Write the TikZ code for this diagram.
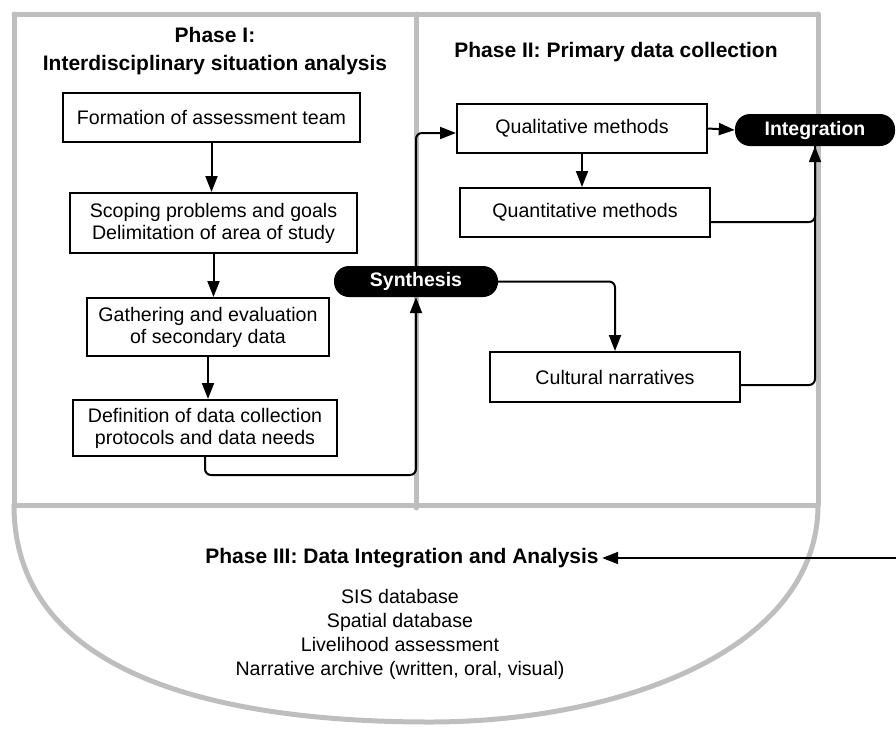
\documentclass[tikz,border=0pt]{standalone}
\usepackage{fontspec}
\setmainfont{Liberation Sans}
\usetikzlibrary{arrows.meta,calc}
\definecolor{framegray}{RGB}{190,190,190}
\begin{document}
\begin{tikzpicture}[x=1pt,y=-1pt,
 frame/.style={draw=framegray, line width=5pt, line cap=round, line join=round},
 box/.style={draw, line width=2pt, align=center, inner sep=0pt, font=\fontsize{19.6}{22}\selectfont},
 pill/.style={fill=black, rounded corners=15pt, text=white, font=\fontsize{19.5}{22}\selectfont\bfseries, inner sep=0pt},
 title/.style={font=\fontsize{21}{28}\selectfont\bfseries, align=center},
 arr/.style={-{Triangle[length=16pt,width=12pt]}, line width=2pt},
 conn/.style={line width=2pt, rounded corners=6pt}]
\useasboundingbox (0,0) rectangle (896,728);

% gray frame
\draw[frame] (14,14) -- (818,14);
\draw[frame] (14,14) -- (14,505);
\draw[frame] (416,14) -- (416,508);
\draw[frame] (818,14) -- (818,505);
\draw[frame] (14,505) -- (818,505);
\draw[frame] (14,505) .. controls (14,680) and (230,722) .. (430,722) .. controls (620,722) and (818,650) .. (818,505);

% titles
\node[title] (t1) at (215,51) {Phase I:\\Interdisciplinary situation analysis};
\node[title] (t2) at (616,52) {Phase II: Primary data collection};
\node[title] (t3) at (402,558) {Phase III: Data Integration and Analysis};
\node[align=center, font=\fontsize{19.6}{24}\selectfont] (list) at (400,634) {SIS database\\Spatial database\\Livelihood assessment\\Narrative archive (written, oral, visual)};

% boxes
\node[box, minimum width=297pt, minimum height=49pt] (b1) at (211.5,117.5) {Formation of assessment team};
\node[box, minimum width=287pt, minimum height=60pt] (b2) at (213.5,223) {Scoping problems and goals\\Delimitation of area of study};
\node[box, minimum width=242pt, minimum height=58pt] (b3) at (208,327) {Gathering and evaluation\\of secondary data};
\node[box, minimum width=264pt, minimum height=56pt] (b4) at (205,428) {Definition of data collection\\protocols and data needs};
\node[pill, minimum width=164pt, minimum height=31pt] (syn) at (416,281.5) {Synthesis};
\node[box, minimum width=250pt, minimum height=49pt] (qual) at (582,128.5) {Qualitative methods};
\node[box, minimum width=250pt, minimum height=49pt] (quant) at (585,212.5) {Quantitative methods};
\node[box, minimum width=250pt, minimum height=50pt] (cult) at (615,377) {Cultural narratives};
\node[pill, minimum width=160pt, minimum height=32pt] (integ) at (815,130) {Integration};

% connectors
\draw[arr] (b1.south) -- (b1.south |- b2.north);
\draw[arr] (b2.south) -- (b2.south |- b3.north);
\draw[arr] (b3.south) -- (b3.south |- b4.north);
\coordinate (c1) at (416,475);
\draw[arr, conn] (b4.south) |- (c1) -- (syn.south);
\draw[arr, conn] (syn.north) |- ([yshift=-4.5pt]qual.west);
\draw[arr, conn] (syn.east) -| (cult.north);
\draw[arr] (qual.east) -- (integ.west);
\draw[arr] (qual.south) -- (qual.south |- quant.north);
\draw[arr, conn] ([yshift=-9.5pt]quant.east) -| (integ.south);
\draw[conn] ([yshift=-8pt]cult.east) -| (integ.south);
\coordinate (p3in) at (896,558);
\draw[arr] (p3in) -- (t3.east);
\end{tikzpicture}
\end{document}
